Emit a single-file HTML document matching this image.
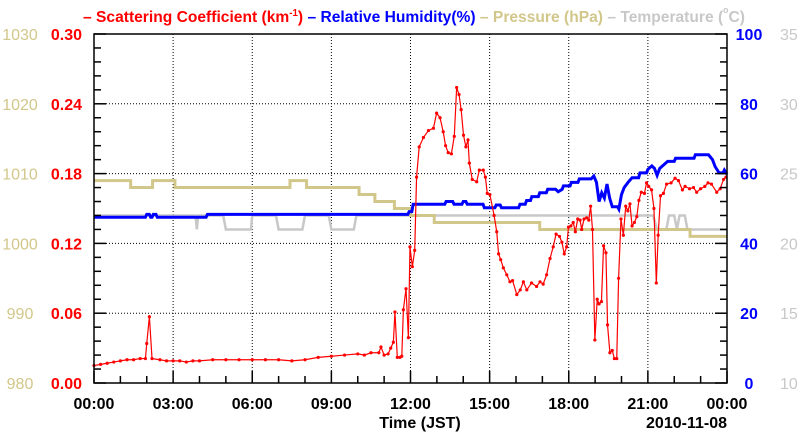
<!DOCTYPE html>
<html><head><meta charset="utf-8"><style>
html,body{margin:0;padding:0;background:#fff;}
svg{display:block;font-family:"Liberation Sans",sans-serif;}
</style></head><body>
<svg id="chart" width="800" height="434" viewBox="0 0 800 434" xmlns="http://www.w3.org/2000/svg">
<text x="83" y="22" font-size="16" font-weight="bold" textLength="662" lengthAdjust="spacingAndGlyphs"><tspan fill="#ff0000">– Scattering Coefficient (km</tspan><tspan fill="#ff0000" font-size="10" dy="-6">-1</tspan><tspan fill="#ff0000" dy="6">) </tspan><tspan fill="#0000ff">– Relative Humidity(%) </tspan><tspan fill="#d2c78a">– Pressure (hPa) </tspan><tspan fill="#c8c8c8">– Temperature (</tspan><tspan fill="#c8c8c8" font-size="9" dy="-9">o</tspan><tspan fill="#c8c8c8" dy="9">C)</tspan></text>
<g id="grid"></g>
<g id="series"></g>
<g id="axes"></g>
<text x="420" y="428" font-size="16" font-weight="bold" text-anchor="middle">Time (JST)</text>
<text x="727" y="428" font-size="16" font-weight="bold" text-anchor="end">2010-11-08</text>
</svg>
<script>
// ---- data ----
const scatHours = [0,0.25,0.5,0.75,1.0,1.25,1.5,1.75,1.95,2.0,2.1,2.2,2.5,2.75,3.0,3.25,3.5,3.75,4.0,4.5,5.0,5.5,6.0,6.5,7.0,7.5,8.0,8.5,9.0,9.5,10.0,10.25,10.5,10.8,10.88,11.0,11.15,11.25,11.35,11.41,11.5,11.6,11.67,11.73,11.83,11.92,11.98,12.07,12.16,12.23,12.33,12.49,12.68,12.87,12.99,13.12,13.24,13.33,13.43,13.55,13.66,13.75,13.84,13.92,14.01,14.1,14.18,14.23,14.34,14.51,14.61,14.76,14.84,14.91,15.01,15.17,15.27,15.34,15.42,15.52,15.65,15.77,15.87,16.03,16.16,16.28,16.41,16.59,16.78,16.91,17.03,17.16,17.29,17.41,17.52,17.65,17.74,17.83,17.92,17.99,18.08,18.17,18.25,18.34,18.43,18.49,18.58,18.68,18.76,18.83,18.9,18.99,19.08,19.15,19.24,19.32,19.41,19.47,19.56,19.65,19.73,19.82,19.89,19.98,20.07,20.16,20.24,20.32,20.4,20.49,20.58,20.66,20.75,20.87,20.95,21.03,21.14,21.23,21.32,21.39,21.48,21.59,21.71,21.88,22.03,22.16,22.31,22.41,22.58,22.73,22.85,23.0,23.16,23.28,23.41,23.61,23.74,23.87,23.96];
const scatValues = [0.015,0.016,0.017,0.018,0.019,0.020,0.020,0.021,0.021,0.034,0.057,0.021,0.020,0.019,0.019,0.019,0.018,0.019,0.019,0.020,0.020,0.020,0.020,0.020,0.020,0.019,0.020,0.022,0.023,0.024,0.025,0.024,0.026,0.026,0.031,0.024,0.025,0.030,0.035,0.061,0.022,0.022,0.023,0.063,0.081,0.039,0.117,0.100,0.114,0.177,0.203,0.211,0.217,0.219,0.232,0.228,0.216,0.204,0.198,0.197,0.212,0.254,0.248,0.235,0.213,0.203,0.209,0.189,0.175,0.173,0.183,0.183,0.177,0.163,0.162,0.144,0.130,0.111,0.106,0.099,0.093,0.087,0.088,0.076,0.080,0.087,0.080,0.086,0.083,0.087,0.085,0.093,0.107,0.117,0.128,0.126,0.121,0.111,0.117,0.134,0.135,0.138,0.130,0.141,0.140,0.132,0.141,0.142,0.140,0.152,0.132,0.037,0.072,0.068,0.070,0.118,0.112,0.050,0.026,0.028,0.021,0.021,0.090,0.141,0.127,0.152,0.148,0.154,0.135,0.138,0.143,0.157,0.164,0.163,0.172,0.169,0.166,0.150,0.086,0.127,0.161,0.163,0.171,0.172,0.176,0.174,0.166,0.169,0.167,0.168,0.164,0.167,0.169,0.172,0.171,0.164,0.167,0.175,0.177];
const rhHours = [0,1.95,2.0,2.1,2.15,2.2,2.25,2.35,2.4,4.25,4.3,11.9,11.95,12.05,12.1,13.3,13.35,13.6,13.65,13.95,14.0,14.1,14.15,14.75,14.8,15.2,15.25,15.4,15.45,16.1,16.15,16.35,16.4,16.55,16.6,16.85,16.9,17.15,17.2,17.5,17.6,17.75,17.8,18.05,18.1,18.35,18.4,18.85,18.95,19.05,19.15,19.25,19.35,19.45,19.55,19.65,19.85,19.9,20.0,20.1,20.25,20.4,20.65,20.7,20.95,21.0,21.15,21.25,21.35,21.45,21.6,21.75,22.0,22.05,22.75,22.8,23.3,23.45,23.55,23.7,23.85,23.9,24.0];
const rhValues = [47.5,47.5,48.3,48.3,47.5,47.5,48.3,48.3,47.5,47.5,48.3,48.3,49.1,49.1,51.2,51.2,52,52,51.2,51.2,52,52,51.2,51.2,50.2,50.2,51,51,50.2,50.2,51.2,51.2,52.3,52.3,53.4,53.4,54.5,54.5,55.5,55.5,54.8,55.5,56.5,56.5,57.5,57.5,58.5,58.5,59.3,57.5,52,54.5,53,57,53,50.5,50.5,49.8,54,56,57.5,58.8,58.8,60.2,60.2,61.2,62.2,61.5,59.5,61.5,62.5,63.5,63.5,64.4,64.4,65.4,65.4,64,62,60.2,60.2,61,59.8];
const presHours = [0,1.39,2.22,3.07,7.43,8.06,10.05,10.65,11.39,12.0,12.9,16.9,22.6,24];
const presValues = [1009,1008,1009,1008,1009,1008,1007,1006,1005,1004,1003,1002,1001,1001];
const tempHours = [0,3.85,3.9,3.95,4.9,5.0,5.95,6.0,6.9,7.0,7.9,8.0,8.9,9.0,9.85,9.95,21.2,21.35,21.7,21.8,22.0,22.1,22.2,22.4,22.5,24];
const tempValues = [22,22,21,22,22,21,21,22,22,21,21,22,22,21,21,22,22,21,21,22,22,21,22,22,21,21];
const xTickLabels = ["00:00","03:00","06:00","09:00","12:00","15:00","18:00","21:00","00:00"];
const scatTickLabels = ["0.00","0.06","0.12","0.18","0.24","0.30"];
const presTickLabels = ["980","990","1000","1010","1020","1030"];
const rhTickLabels = ["0","20","40","60","80","100"];
const tempTickLabels = ["10","15","20","25","30","35"];

// ---- axis functions ----
const L=94,R=727,T=34,B=383;
const X=h=>L+h*(R-L)/24;
const Ys=v=>B-v/0.30*(B-T);
const Yrh=r=>B-r/100*(B-T);
const Yp=p=>B-(p-980)/50*(B-T);
const Yt=t=>B-(t-10)/25*(B-T);
const NS="http://www.w3.org/2000/svg";
function mk(tag,parent){const e=document.createElementNS(NS,tag);parent.appendChild(e);return e;}
const grid=document.getElementById('grid'),series=document.getElementById('series'),axes=document.getElementById('axes');

// grid
for(let i=1;i<8;i++){const l=mk('line',grid);


l.setAttribute('x1',X(i*3));l.setAttribute('x2',X(i*3));l.setAttribute('y1',T);l.setAttribute('y2',B);
l.setAttribute('stroke','#000');l.setAttribute('stroke-dasharray','1,2');}
for(let i=1;i<5;i++){const l=mk('line',grid);


l.setAttribute('x1',L);l.setAttribute('x2',R);l.setAttribute('y1',Ys(i*0.06));l.setAttribute('y2',Ys(i*0.06));
l.setAttribute('stroke','#000');l.setAttribute('stroke-dasharray','1,2');}

function poly(hs,vs,yf,color,w,name,step){
  let pts=[];
  for(let i=0;i<hs.length;i++){
    if(step&&i>0)pts.push(X(hs[i])+','+yf(vs[i-1]));
    pts.push(X(hs[i])+','+yf(vs[i]));
  }
  const p=mk('polyline',series);
  
  
  p.setAttribute('points',pts.join(' '));p.setAttribute('fill','none');
  p.setAttribute('stroke',color);p.setAttribute('stroke-width',w);p.setAttribute('stroke-linejoin','miter');
}
poly(tempHours,tempValues,Yt,'#c8c8c8',2.5,'temperature-line',false);
poly(presHours,presValues,Yp,'#d2c78a',3,'pressure-line',true);
poly(rhHours,rhValues,Yrh,'#0000ff',3,'humidity-line',false);
poly(scatHours,scatValues,Ys,'#ff0000',1.2,'scattering-line',false);
for(let i=0;i<scatHours.length;i++){const c=mk('circle',series);


c.setAttribute('cx',X(scatHours[i]));c.setAttribute('cy',Ys(scatValues[i]));c.setAttribute('r',1.6);c.setAttribute('fill','#ff0000');}

// frame
const f=mk('rect',axes);


f.setAttribute('x',L);f.setAttribute('y',T);f.setAttribute('width',R-L);f.setAttribute('height',B-T);
f.setAttribute('fill','none');f.setAttribute('stroke','#000');f.setAttribute('stroke-width',1.5);
function tick(x1,y1,x2,y2){const l=mk('line',axes);


l.setAttribute('x1',x1);l.setAttribute('y1',y1);l.setAttribute('x2',x2);l.setAttribute('y2',y2);l.setAttribute('stroke','#000');l.setAttribute('stroke-width',1.5);}
for(let h=0;h<=24;h++){const len=h%3===0?12:7;tick(X(h),B,X(h),B-len);}
for(let i=0;i<=25;i++){const v=i*0.012;const len=i%5===0?12:7;tick(L,Ys(v),L+len,Ys(v));}
for(let r=0;r<=100;r+=4){const len=r%20===0?12:7;tick(R,Yrh(r),R-len,Yrh(r));}
function txt(s,x,y,anchor,color,bold,name){const t=mk('text',axes);


t.setAttribute('x',x);t.setAttribute('y',y);t.setAttribute('text-anchor',anchor);t.setAttribute('fill',color);
t.setAttribute('font-size',16);if(bold)t.setAttribute('font-weight','bold');t.textContent=s;}
xTickLabels.forEach((s,i)=>txt(s,X(i*3),409,'middle','#000',true,'x-tick-label'));
scatTickLabels.forEach((s,i)=>txt(s,82,Ys(i*0.06)+6,'end','#ff0000',true,'scattering-tick-label'));
presTickLabels.forEach((s,i)=>txt(s,20,Yp(980+i*10)+6,'middle','#d2c78a',false,'pressure-tick-label'));
rhTickLabels.forEach((s,i)=>txt(s,749,Yrh(i*20)+6,'middle','#0000ff',true,'humidity-tick-label'));
tempTickLabels.forEach((s,i)=>txt(s,780,Yt(10+i*5)+6,'start','#c8c8c8',false,'temperature-tick-label'));
</script>
</body></html>
